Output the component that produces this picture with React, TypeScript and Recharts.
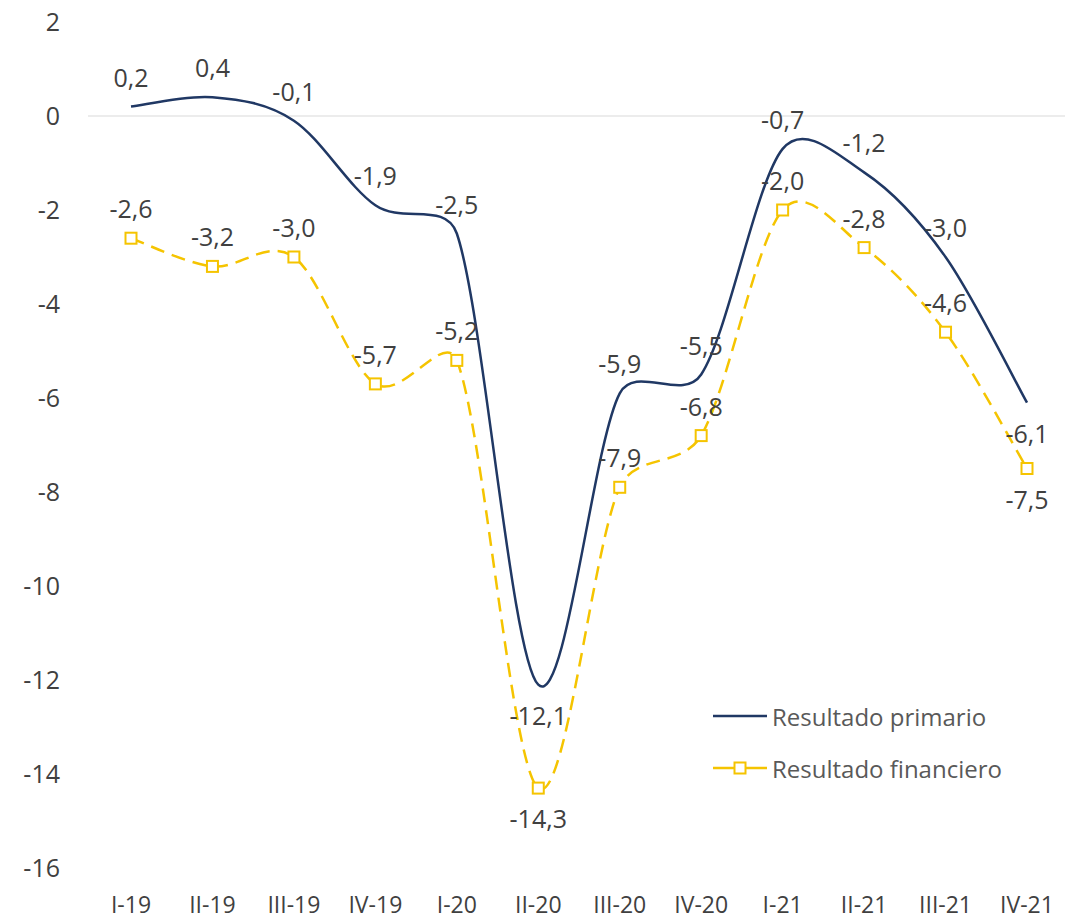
import React from 'react';
import { LineChart, Line, XAxis, YAxis, CartesianGrid, LabelList } from 'recharts';

const categories = ['I-19', 'II-19', 'III-19', 'IV-19', 'I-20', 'II-20', 'III-20', 'IV-20', 'I-21', 'II-21', 'III-21', 'IV-21'];
const primario = [0.2, 0.4, -0.1, -1.9, -2.5, -12.1, -5.9, -5.5, -0.7, -1.2, -3.0, -6.1];
const financiero = [-2.6, -3.2, -3.0, -5.7, -5.2, -14.3, -7.9, -6.8, -2.0, -2.8, -4.6, -7.5];
const yTicks = [2, 0, -2, -4, -6, -8, -10, -12, -14, -16];

// label placement (style config, not data)
const primarioLabelPos = ['top', 'top', 'top', 'top', 'top', 'bottom', 'top', 'top', 'top', 'top', 'top', 'bottom'];
const financieroLabelPos = ['top', 'top', 'top', 'top', 'top', 'bottom', 'top', 'top', 'top', 'top', 'top', 'bottom'];

const data = categories.map((c, i) => ({ cat: c, primario: primario[i], financiero: financiero[i] }));

const NAVY = '#203864';
const YELLOW = '#F5C400';
const TEXT = '#404040';
const FONT = '"Open Sans", "Noto Sans", sans-serif';

const fmt = (v: number) => v.toFixed(1).replace('.', ',');

// Excel-like smoothed line: Catmull-Rom bezier with control arms clamped to a share of the segment length
function excelCurve(context: any) {
  let pts: number[][] = [];
  const K = 0.4;
  const dist = (a: number[], b: number[]) => Math.hypot(b[0] - a[0], b[1] - a[1]);
  const arm = (a: number[], b: number[], seg: number) => {
    let dx = (b[0] - a[0]) / 6;
    let dy = (b[1] - a[1]) / 6;
    const len = Math.hypot(dx, dy);
    const max = K * seg;
    if (len > max && len > 0) {
      dx *= max / len;
      dy *= max / len;
    }
    return [dx, dy];
  };
  return {
    areaStart() {},
    areaEnd() {},
    lineStart() { pts = []; },
    point(x: number, y: number) { pts.push([+x, +y]); },
    lineEnd() {
      const n = pts.length;
      if (!n) return;
      context.moveTo(pts[0][0], pts[0][1]);
      for (let i = 0; i < n - 1; i++) {
        const p0 = pts[i - 1] || pts[i];
        const p1 = pts[i];
        const p2 = pts[i + 1];
        const p3 = pts[i + 2] || p2;
        const seg = dist(p1, p2);
        const a1 = arm(p0, p2, seg);
        const a2 = arm(p1, p3, seg);
        context.bezierCurveTo(p1[0] + a1[0], p1[1] + a1[1], p2[0] - a2[0], p2[1] - a2[1], p2[0], p2[1]);
      }
    },
  };
}

const makeLabel = (positions: string[]) => (props: any) => {
  const { x, y, value, index } = props;
  const pos = positions[index];
  const dy = pos === 'bottom' ? 30 : -30;
  return (
    <text x={x} y={y + dy} textAnchor="middle" dominantBaseline="central" fill={TEXT} fontSize={25} fontFamily={FONT}>
      {fmt(value)}
    </text>
  );
};

const SquareDot = (props: any) => {
  const { cx, cy } = props;
  if (cx == null || cy == null) return null;
  return <rect x={cx - 5.5} y={cy - 5.5} width={11} height={11} fill="#fff" stroke={YELLOW} strokeWidth={2} />;
};

const LegendBox = () => (
  <div style={{ position: 'absolute', left: 713, top: 690, fontFamily: FONT, fontSize: 24, color: '#595959' }}>
    <div style={{ display: 'flex', alignItems: 'center', height: 52 }}>
      <svg width={56} height={12}><line x1={0} y1={6} x2={54} y2={6} stroke={NAVY} strokeWidth={2.5} /></svg>
      <span style={{ marginLeft: 3 }}>Resultado primario</span>
    </div>
    <div style={{ display: 'flex', alignItems: 'center', height: 52 }}>
      <svg width={56} height={14}>
        <line x1={0} y1={7} x2={54} y2={7} stroke={YELLOW} strokeWidth={2.5} />
        <rect x={21.5} y={1.5} width={11} height={11} fill="#fff" stroke={YELLOW} strokeWidth={2} />
      </svg>
      <span style={{ marginLeft: 3 }}>Resultado financiero</span>
    </div>
  </div>
);

export default function App() {
  return (
    <div style={{ position: 'absolute', left: 0, top: 0, width: 1065, height: 922, background: '#fff' }}>
      <LineChart width={1065} height={922} data={data} margin={{ top: 22, right: 0, bottom: 0, left: 0 }}>
        <CartesianGrid horizontal={true} vertical={false} horizontalValues={[0]} stroke="#D9D9D9" strokeWidth={1} />
        <XAxis
          dataKey="cat"
          height={54}
          axisLine={false}
          tickLine={false}
          tickSize={0}
          tickMargin={29}
          interval={0}
          padding={{ left: 43, right: 38 }}
          tick={{ fill: TEXT, fontSize: 23, fontFamily: FONT }}
        />
        <YAxis
          domain={[-16, 2]}
          ticks={yTicks}
          width={88}
          axisLine={false}
          tickLine={false}
          tickSize={0}
          tickMargin={28}
          interval={0}
          tick={{ fill: TEXT, fontSize: 25, fontFamily: FONT }}
        />
        <Line
          dataKey="primario"
          name="Resultado primario"
          type={excelCurve as any}
          stroke={NAVY}
          strokeWidth={2.5}
          dot={false}
          activeDot={false}
          isAnimationActive={false}
        >
          <LabelList dataKey="primario" content={makeLabel(primarioLabelPos)} />
        </Line>
        <Line
          dataKey="financiero"
          name="Resultado financiero"
          type={excelCurve as any}
          stroke={YELLOW}
          strokeWidth={2.5}
          strokeDasharray="14 8"
          dot={<SquareDot />}
          activeDot={false}
          isAnimationActive={false}
        >
          <LabelList dataKey="financiero" content={makeLabel(financieroLabelPos)} />
        </Line>
      </LineChart>
      <LegendBox />
    </div>
  );
}
